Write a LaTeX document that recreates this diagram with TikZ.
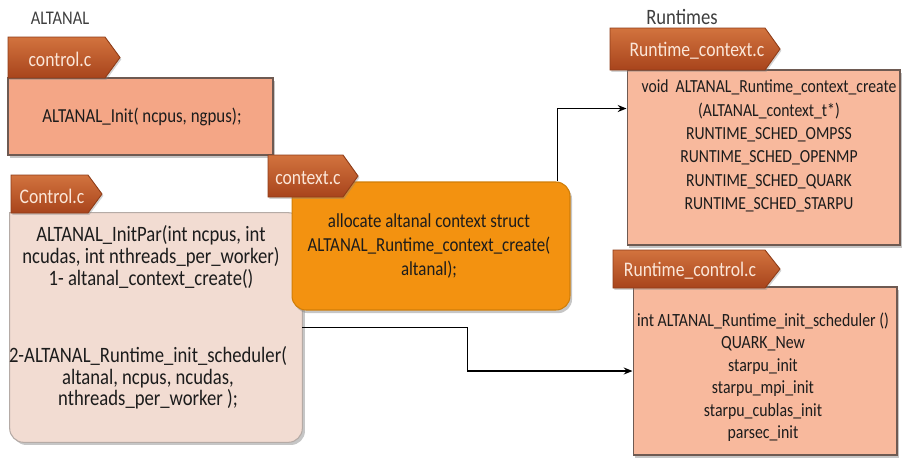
\documentclass[tikz,border=0pt]{standalone}
\usepackage{fontspec}
\setmainfont{Carlito}[FakeStretch=0.85]
\usetikzlibrary{shadows,calc,arrows.meta}
\definecolor{tabtop}{HTML}{D2733E}
\definecolor{tabbot}{HTML}{A8441C}
\definecolor{tabedge}{HTML}{8E3C18}
\definecolor{tabtxt}{HTML}{FBE6D8}
\definecolor{salmonA}{HTML}{F4A686}
\definecolor{salmonB}{HTML}{F8B99D}
\definecolor{boxedge}{HTML}{6E5A52}
\definecolor{pinkbox}{HTML}{F2DCD2}
\definecolor{pinkedge}{HTML}{B5ABA6}
\definecolor{orangebox}{HTML}{F39210}
\definecolor{orangeedge}{HTML}{D07E08}
\definecolor{txt}{HTML}{1C1C1C}
\newcommand\setfs[2]{\fontsize{#1}{#2}\selectfont}
\newcommand\filetab[8]{% name, x1, y1, x2, tip, y2, textx, text
  \path[tabshape] (#2,#3) -- (#4,#3) -- (#5,{(#3+#6)/2}) -- (#4,#6) -- (#2,#6) -- cycle;
  \node[tabtext] (#1) at (#7,{(#3+#6)/2+2}) {#8};
}
\begin{document}
\begin{tikzpicture}[x=0.02cm,y=-0.02cm,
  tabshape/.style={top color=tabtop, bottom color=tabbot, draw=tabedge, line width=0.5pt,
    drop shadow={shadow xshift=0.8pt, shadow yshift=-1pt, opacity=0.35}},
  tabtext/.style={text=tabtxt, inner sep=0pt, font=\setfs{11.8}{13}},
  salbox/.style={rectangle, draw=boxedge, line width=0.6pt, inner sep=0pt,
    drop shadow={shadow xshift=1.2pt, shadow yshift=-1.5pt, opacity=0.45}},
  boxtext/.style={text=txt, inner sep=0pt, align=center},
  heading/.style={text=txt!85, inner sep=0pt},
  arr/.style={draw=black, line width=0.8pt, -{Stealth[length=5pt,width=4pt]}}
]
\useasboundingbox (0,0) rectangle (902,457);

% headings
\node[heading, font=\setfs{11}{12}] (hAlt) at (60,18) {ALTANAL};
\node[heading, font=\setfs{12.5}{13}] (hRun) at (682,17) {Runtimes};

% box 1
\node[salbox, fill=salmonA, minimum width=5.3cm, minimum height=1.54cm] (b1) at (140.5,116.5) {};
\node[boxtext, font=\setfs{11.3}{13}] (t1) at (142,117) {ALTANAL\_Init( ncpus, ngpus);};

% box 2 (pink, rounded except top-left)
\node[inner sep=0pt, minimum width=5.84cm, minimum height=4.58cm] (b2) at (156,327.5) {};
\path[fill=pinkbox, draw=pinkedge, line width=0.6pt,
  drop shadow={shadow xshift=1.5pt, shadow yshift=-1.5pt, opacity=0.45}]
  (b2.north west) -- ([xshift=-8pt]b2.north east) arc[start angle=90,end angle=0,radius=8pt]
  -- ([yshift=8pt]b2.south east) arc[start angle=0,end angle=-90,radius=8pt]
  -- ([xshift=8pt]b2.south west) arc[start angle=270,end angle=180,radius=8pt] -- cycle;
\node[boxtext, font=\setfs{12.5}{12.3}] (t2a) at (151,257) {ALTANAL\_InitPar(int ncpus, int\\ncudas, int nthreads\_per\_worker)\\1- altanal\_context\_create()};
\node[boxtext, font=\setfs{12.5}{12.3}] (t2b) at (148,378) {2-ALTANAL\_Runtime\_init\_scheduler(\\altanal, ncpus, ncudas,\\nthreads\_per\_worker );};

% orange box
\node[rectangle, rounded corners=8pt, fill=orangebox, draw=orangeedge, line width=0.6pt,
  minimum width=5.56cm, minimum height=2.56cm, inner sep=0pt,
  drop shadow={shadow xshift=1.2pt, shadow yshift=-1.8pt, opacity=0.45}] (ob) at (431,246) {};
\node[boxtext, font=\setfs{11.3}{13.5}] (to) at (429,246) {allocate altanal context struct\\ALTANAL\_Runtime\_context\_create(\\altanal);};

% box 3
\node[salbox, fill=salmonB, minimum width=5.46cm, minimum height=3.5cm] (b3) at (763.5,157.5) {};
\node[boxtext, font=\setfs{10.5}{13.3}] (t3) at (769,146) {void\ \ ALTANAL\_Runtime\_context\_create\\(ALTANAL\_context\_t*)\\RUNTIME\_SCHED\_OMPSS\\RUNTIME\_SCHED\_OPENMP\\RUNTIME\_SCHED\_QUARK\\RUNTIME\_SCHED\_STARPU};

% box 4
\node[salbox, fill=salmonB, minimum width=5.28cm, minimum height=3.36cm] (b4) at (765,371) {};
\node[boxtext, font=\setfs{10.6}{12.8}] (t4) at (763,377) {int ALTANAL\_Runtime\_init\_scheduler ()\\QUARK\_New\\starpu\_init\\starpu\_mpi\_init\\starpu\_cublas\_init\\parsec\_init};

% tabs
\filetab{tab1}{8}{37}{105}{120}{78}{60}{control.c}
\filetab{tab2}{11}{175}{88}{102}{213}{52}{Control.c}
\filetab{tab3}{268}{155}{343}{358}{197}{308}{context.c}
\filetab{tab4}{610}{28}{765}{780}{70}{697}{Runtime\_context.c}
\filetab{tab5}{613}{250}{765}{780}{288}{690}{Runtime\_control.c}

% connectors
\draw[arr] ([xshift=-0.26cm]ob.north east) |- ([yshift=0.98cm]b3.west);
\draw[arr] (b2.east) -| ($(b2.east)!0.5!(b4.west)$) |- (b4.west);
\end{tikzpicture}
\end{document}
